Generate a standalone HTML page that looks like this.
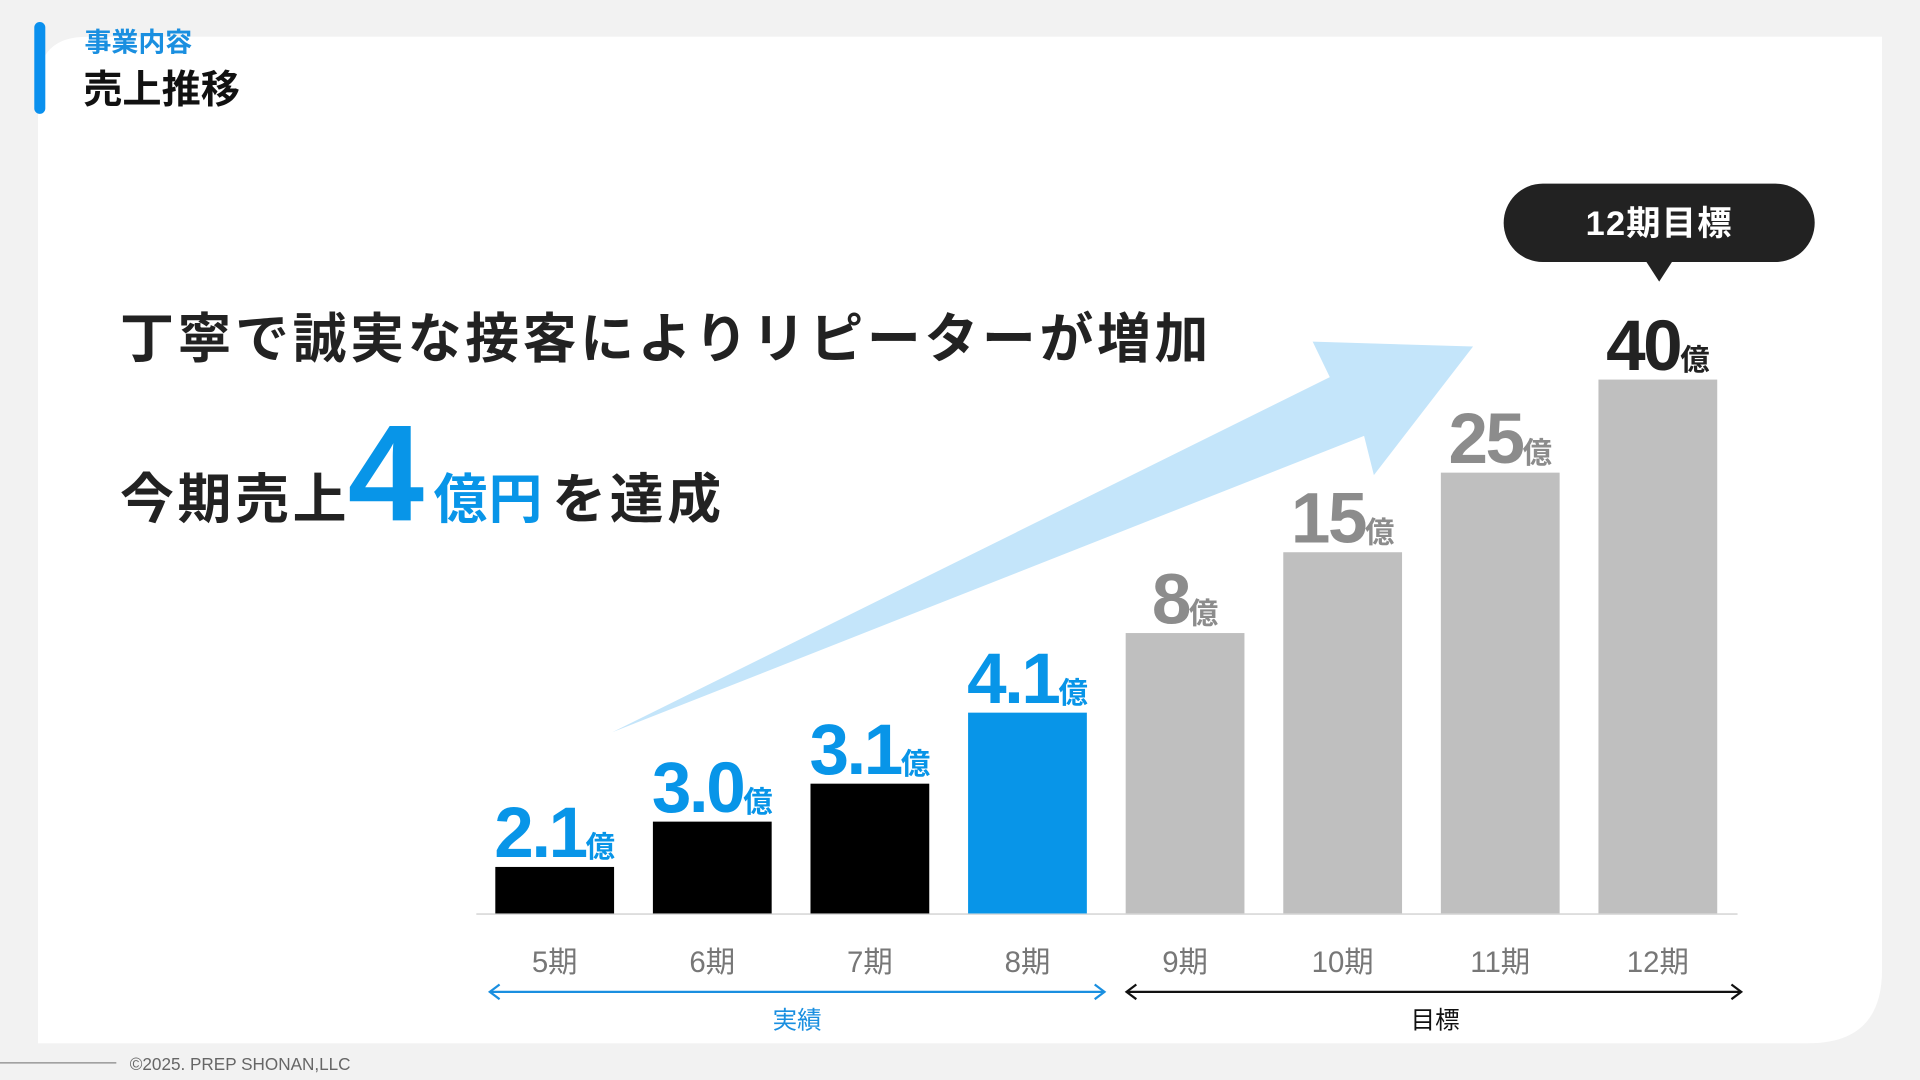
<!DOCTYPE html>
<html><head><meta charset="utf-8"><style>
html,body{margin:0;padding:0;background:#f2f2f2;width:1920px;height:1080px;overflow:hidden}
svg{display:block}
text{font-family:"Liberation Sans","Noto Sans CJK JP",sans-serif}
</style></head><body>
<svg id="chart" width="1920" height="1080" viewBox="0 0 1568 882" xmlns="http://www.w3.org/2000/svg">
<rect x="0" y="0" width="1568" height="882" fill="#f2f2f2"/>
<path d="M71 30 H1537 V792 Q1537 852 1477 852 H31 V70 Q31 30 71 30 Z" fill="#fff"/>
<rect x="28" y="18" width="9" height="75" rx="4.5" fill="#0a90ee"/>
<text x="69" y="42" font-size="22" font-weight="bold" fill="#1a8fe0">事業内容</text>
<text x="68" y="84" font-size="32" font-weight="bold" fill="#111">売上推移</text>
<text x="98" y="292" font-size="44" font-weight="bold" fill="#222" letter-spacing="3">丁寧で誠実な接客によりリピーターが増加</text>
<g>
<text x="98" y="423" font-size="44" font-weight="bold" fill="#222" letter-spacing="3">今期売上</text>
<text x="284" y="425" font-size="112" font-weight="bold" fill="#0895e8">4</text>
<text x="354" y="423" font-size="44" font-weight="bold" fill="#0895e8" letter-spacing="1">億円</text>
<text x="451" y="423" font-size="44" font-weight="bold" fill="#222" letter-spacing="3">を達成</text>
</g>
<polygon points="500,598 1086,308 1072,279 1203,283 1122,388 1114,356" fill="#c4e5fa"/>
<line x1="389" y1="746.5" x2="1419" y2="746.5" stroke="#dddddd" stroke-width="1.5"/>
<g id="bars"></g>
<g>
<line x1="400" y1="810" x2="902" y2="810" stroke="#1a8fe0" stroke-width="1.8"/>
<polyline points="408,804 400,810 408,816" fill="none" stroke="#1a8fe0" stroke-width="1.8"/>
<polyline points="894,804 902,810 894,816" fill="none" stroke="#1a8fe0" stroke-width="1.8"/>
<text x="651" y="840" font-size="20" fill="#1a8fe0" text-anchor="middle">実績</text>
</g>
<g>
<line x1="920" y1="810" x2="1422" y2="810" stroke="#111" stroke-width="1.8"/>
<polyline points="928,804 920,810 928,816" fill="none" stroke="#111" stroke-width="1.8"/>
<polyline points="1414,804 1422,810 1414,816" fill="none" stroke="#111" stroke-width="1.8"/>
<text x="1172" y="840" font-size="20" fill="#111" text-anchor="middle">目標</text>
</g>
<g>
<rect x="1228" y="150" width="254" height="64" rx="32" fill="#222"/>
<polygon points="1344,213 1366,213 1355,230" fill="#222"/>
<text x="1355" y="192" font-size="28" font-weight="bold" fill="#fff" text-anchor="middle" letter-spacing="1">12期目標</text>
</g>
<line x1="0" y1="868" x2="95" y2="868" stroke="#888" stroke-width="1"/>
<text x="106" y="874" font-size="14" fill="#666">©2025. PREP SHONAN,LLC</text>
</svg>
<script>
const categories = ["5期","6期","7期","8期","9期","10期","11期","12期"];
const values = [2.1, 3.0, 3.1, 4.1, 8, 15, 25, 40];
const valueLabels = ["2.1","3.0","3.1","4.1","8","15","25","40"];
const kinds = ["actual","actual","actual","current","target","target","target","final"];

const baseY = 746, barW = 97, x0 = 453, step = 128.7;
// non-linear value axis (piecewise scale as drawn in the slide)
const domainPts = [0, 2.1, 3.0, 3.1, 4.1, 8, 15, 25, 40];
const rangePts  = [0, 38, 75, 106, 164, 229, 295, 360, 436];
function yScale(v){
  for(let i=1;i<domainPts.length;i++){
    if(v<=domainPts[i]){const t=(v-domainPts[i-1])/(domainPts[i]-domainPts[i-1]);return baseY-(rangePts[i-1]+t*(rangePts[i]-rangePts[i-1]));}
  }
  const n=domainPts.length-1;const s=(rangePts[n]-rangePts[n-1])/(domainPts[n]-domainPts[n-1]);
  return baseY-(rangePts[n]+(v-domainPts[n])*s);
}
function xScale(i){return x0+i*step;}
const NS="http://www.w3.org/2000/svg";
const g=document.getElementById('bars');
const fill={actual:"#000",current:"#0895e8",target:"#bfbfbf",final:"#bfbfbf"};
const lab={actual:"#0895e8",current:"#0895e8",target:"#8c8c8c",final:"#222"};
categories.forEach((c,i)=>{
  const cx=xScale(i), y=yScale(values[i]);
  const r=document.createElementNS(NS,'rect');
  r.setAttribute('x',cx-barW/2);r.setAttribute('y',y);r.setAttribute('width',barW);r.setAttribute('height',baseY-y);
  r.setAttribute('fill',fill[kinds[i]]);
  
  
  g.appendChild(r);
  const t=document.createElementNS(NS,'text');
  t.setAttribute('x',cx);t.setAttribute('y',yScale(values[i])-8);t.setAttribute('text-anchor','middle');
  t.setAttribute('fill',lab[kinds[i]]);t.setAttribute('font-weight','bold');
  const n=document.createElementNS(NS,'tspan');n.setAttribute('font-size','58');n.setAttribute('letter-spacing','-2');n.textContent=valueLabels[i];
  const u=document.createElementNS(NS,'tspan');u.setAttribute('font-size','24');u.textContent='億';
  t.appendChild(n);t.appendChild(u);
  
  
  g.appendChild(t);
  const cl=document.createElementNS(NS,'text');
  cl.setAttribute('x',cx);cl.setAttribute('y',794);cl.setAttribute('text-anchor','middle');
  cl.setAttribute('font-size','24');cl.setAttribute('fill','#777');cl.textContent=c;
  
  
  g.appendChild(cl);
});
</script>
</body></html>
